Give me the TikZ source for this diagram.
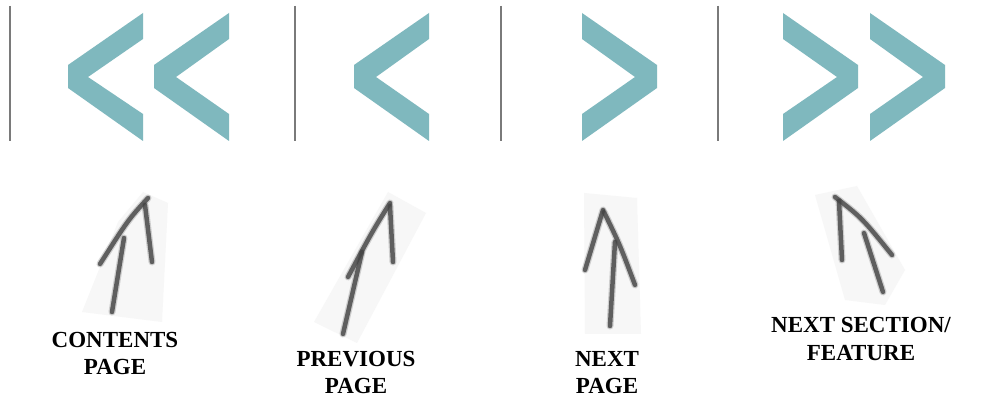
\documentclass[tikz,border=0pt]{standalone}
\usepackage{fontspec}
\setmainfont{Liberation Serif}
\definecolor{chev}{HTML}{7FB8BE}
\definecolor{rule}{HTML}{7A7A7A}
\definecolor{pencil}{HTML}{444444}
\definecolor{paper}{HTML}{F7F7F7}
\begin{document}
\begin{tikzpicture}[x=1pt,y=-1pt,
  sep/.style={draw=rule,line width=2pt},
  chevbox/.style={fill=chev,draw=none},
  paperbg/.style={fill=paper,draw=none},
  pencilsoft/.style={draw=pencil,line width=7pt,line cap=round,opacity=0.22},
  pencilcore/.style={draw=pencil,line width=4.5pt,line cap=round,opacity=0.8},
  lbl/.style={font=\bfseries\fontsize{23}{27.5}\selectfont,align=center,inner sep=0pt}]
\useasboundingbox (0,0) rectangle (997,398);
\fill[white] (0,0) rectangle (997,398);
% separators
\coordinate (s1t) at (10,6);  \coordinate (s1b) at (10,141);
\coordinate (s2t) at (295,6); \coordinate (s2b) at (295,141);
\coordinate (s3t) at (501,6); \coordinate (s3b) at (501,141);
\coordinate (s4t) at (718,6); \coordinate (s4b) at (718,141);
\draw[sep] (s1t) -- (s1b);
\draw[sep] (s2t) -- (s2b);
\draw[sep] (s3t) -- (s3b);
\draw[sep] (s4t) -- (s4b);
% left chevrons: right edge R, tip T, inner I
\foreach \R/\T/\I in {143/68/88, 229/154/176, 429/354/376}{
  \fill[chevbox] (\R,13) -- (\R,39) -- (\I,77) -- (\R,114) -- (\R,141) -- (\T,88) -- (\T,65) -- cycle;
}
% right chevrons: left edge L, tip T, inner I
\foreach \L/\T/\I in {582/657/635, 783/858/837, 870/945/923}{
  \fill[chevbox] (\L,13) -- (\L,39) -- (\I,77) -- (\L,114) -- (\L,141) -- (\T,88) -- (\T,65) -- cycle;
}
% paper backgrounds
\fill[paperbg] (82,312) -- (118,222) -- (143,192) -- (168,203) -- (162,322) -- cycle;
\fill[paperbg] (314,322) -- (388,192) -- (426,213) -- (357,343) -- cycle;
\fill[paperbg] (584,193) -- (637,198) -- (641,334) -- (585,334) -- cycle;
\fill[paperbg] (815,195) -- (857,186) -- (905,270) -- (885,305) -- (845,300) -- cycle;
% pencil arrow 1
\foreach \s in {pencilsoft,pencilcore}{
  \draw[\s] (148,198) .. controls (128,220) .. (100,264);
  \draw[\s] (145,205) -- (152,262);
  \draw[\s] (124,238) -- (112,312);
}
% pencil arrow 2
\foreach \s in {pencilsoft,pencilcore}{
  \draw[\s] (390,203) .. controls (372,232) .. (348,277);
  \draw[\s] (390,206) -- (393,262);
  \draw[\s] (362,252) -- (343,334);
}
% pencil arrow 3
\foreach \s in {pencilsoft,pencilcore}{
  \draw[\s] (603,210) -- (585,270);
  \draw[\s] (604,212) .. controls (620,245) .. (635,285);
  \draw[\s] (615,242) -- (610,326);
}
% pencil arrow 4
\foreach \s in {pencilsoft,pencilcore}{
  \draw[\s] (835,197) .. controls (862,218) .. (892,255);
  \draw[\s] (839,201) -- (842,260);
  \draw[\s] (864,233) -- (883,292);
}
% labels
\node[lbl] (contents) at (115,353.5) {CONTENTS\\PAGE};
\node[lbl] (previous) at (356,372.5) {PREVIOUS\\PAGE};
\node[lbl] (next) at (607,372.5) {NEXT\\PAGE};
\node[lbl] (section) at (861,339) {NEXT SECTION/\\FEATURE};
\end{tikzpicture}
\end{document}
